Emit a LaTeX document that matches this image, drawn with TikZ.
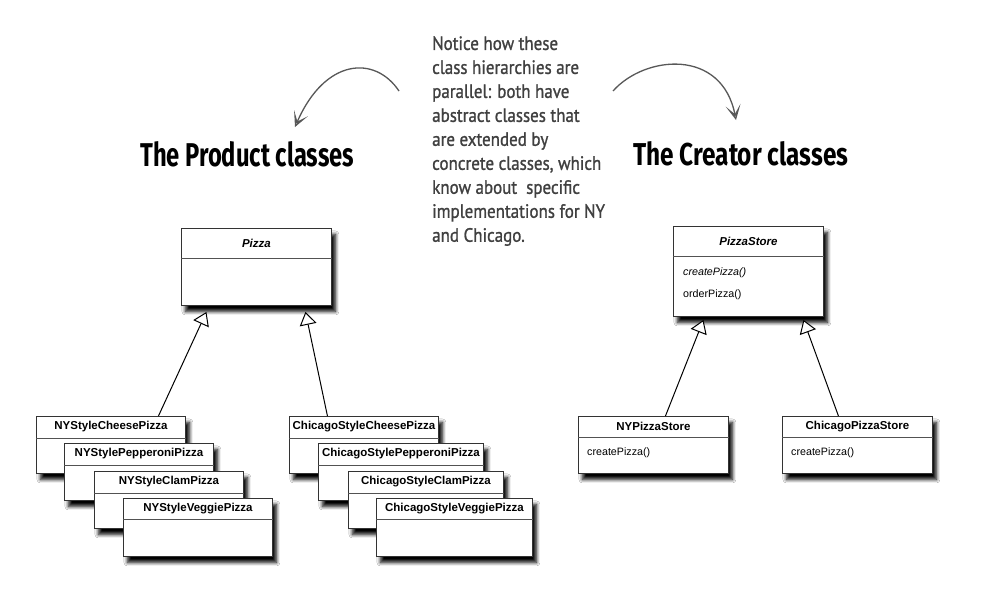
\documentclass[tikz,border=0pt]{standalone}
\usepackage{fontspec}
\setmainfont{Liberation Sans}
\newfontfamily\notefont[FakeBold=1.2]{PT Sans}
\newfontfamily\titlefont{Fira Sans}
\usepackage{graphicx}
\usetikzlibrary{arrows.meta,shadows.blur,calc}
\definecolor{boxline}{HTML}{333333}
\definecolor{notegray}{HTML}{404040}
\definecolor{handgray}{HTML}{585858}
\tikzset{
  umlbox/.style={draw=boxline, line width=0.9pt, fill=white, rectangle, inner sep=0pt, anchor=north west,
    blur shadow={shadow xshift=4pt, shadow yshift=-6pt, shadow blur radius=3.5pt, shadow blur steps=8, shadow opacity=100}},
  divider/.style={draw=boxline!85, line width=0.8pt},
  clsname/.style={font=\fontsize{11.5}{13}\selectfont\bfseries, inner sep=0pt},
  method/.style={font=\fontsize{10.7}{13}\selectfont, inner sep=0pt, anchor=west},
  gen/.style={draw=black, line width=1pt, -{Triangle[length=13pt, width=17pt, fill=white]}},
  hand/.style={draw=handgray, line width=1.3pt, -{Stealth[open, length=15pt, width=15pt, inset=9pt]}},
  bigtitle/.style={inner sep=0pt, anchor=south west},
  notetext/.style={inner sep=0pt, anchor=north west, align=left, text=notegray, xscale=0.97, yscale=1.1,
    font=\notefont\fontsize{17.5}{21.8}\selectfont},
}
% name, x, y, width, height, head height, title
\newcommand{\umlcls}[7]{%
  \node[umlbox, minimum width=#4pt, minimum height=#5pt] (#1) at (#2,#3) {};
  \draw[divider] ([yshift=-#6pt]#1.north west) -- ([yshift=-#6pt]#1.north east);
  \node[clsname] (#1-name) at ([yshift=-#6pt/2]#1.north) {#7};
}
\begin{document}
\begin{tikzpicture}[x=1pt, y=-1pt]
\fill[white] (0,0) rectangle (986,598);
\useasboundingbox (0,0) rectangle (986,598);

% titles
\node[bigtitle] (ptitle) at (140,167) {\resizebox{214pt}{25pt}{\titlefont\bfseries The Product classes}};
\node[bigtitle] (ctitle) at (633,166) {\resizebox{215pt}{24pt}{\titlefont\bfseries The Creator classes}};

% note
\node[notetext] (note) at (432,36) {Notice how these\\class hierarchies are\\parallel: both have\\abstract classes that\\are extended by\\concrete classes, which\\know about~ specific\\implementations for NY\\and Chicago.};

% hand arrows
\coordinate (la-s) at (399,91);
\coordinate (la-e) at (295,127);
\coordinate (ra-s) at (613,91);
\coordinate (ra-e) at (736,120);
\draw[hand] (la-s) .. controls (375,55) and (325,58) .. (la-e);
\draw[hand] (ra-s) .. controls (645,55) and (722,48) .. (ra-e);

% product classes
\umlcls{pizza}{181}{228}{150}{77}{30}{\itshape Pizza}
\umlcls{nycheese}{36}{416}{149}{57}{22}{NYStyleCheesePizza}
\umlcls{nypep}{64}{443}{149}{57}{22}{NYStylePepperoniPizza}
\umlcls{nyclam}{94}{471}{149}{57}{22}{NYStyleClamPizza}
\umlcls{nyveg}{123}{498}{149}{58}{21}{NYStyleVeggiePizza}
\umlcls{chcheese}{289}{416}{149}{57}{22}{ChicagoStyleCheesePizza}
\umlcls{chpep}{318}{443}{165}{57}{22}{ChicagoStylePepperoniPizza}
\umlcls{chclam}{348}{471}{155}{57}{22}{ChicagoStyleClamPizza}
\umlcls{chveg}{376}{498}{156}{58}{21}{ChicagoStyleVeggiePizza}

% creator classes
\umlcls{ps}{673}{226}{150}{90}{30}{\itshape PizzaStore}
\node[method] (ps-m1) at ($(ps.north west)+(10,47)$) {\itshape createPizza()};
\node[method] (ps-m2) at ($(ps.north west)+(10,69)$) {orderPizza()};
\umlcls{nystore}{578}{416}{150}{57}{21}{NYPizzaStore}
\node[method] (nystore-m1) at ($(nystore.north west)+(9,37)$) {createPizza()};
\umlcls{chstore}{782}{416}{150}{57}{21}{ChicagoPizzaStore}
\node[method] (chstore-m1) at ($(chstore.north west)+(9,37)$) {createPizza()};

% generalizations
\draw[gen] ([xshift=47.5pt]nycheese.north) -- ([xshift=-50pt,yshift=-6pt]pizza.south);
\draw[gen] ([xshift=-36.5pt]chcheese.north) -- ([xshift=49pt,yshift=-6pt]pizza.south);
\draw[gen] ([xshift=12pt]nystore.north) -- ([xshift=-45pt,yshift=-3pt]ps.south);
\draw[gen] ([xshift=-19pt]chstore.north) -- ([xshift=55pt,yshift=-3pt]ps.south);
\end{tikzpicture}
\end{document}
